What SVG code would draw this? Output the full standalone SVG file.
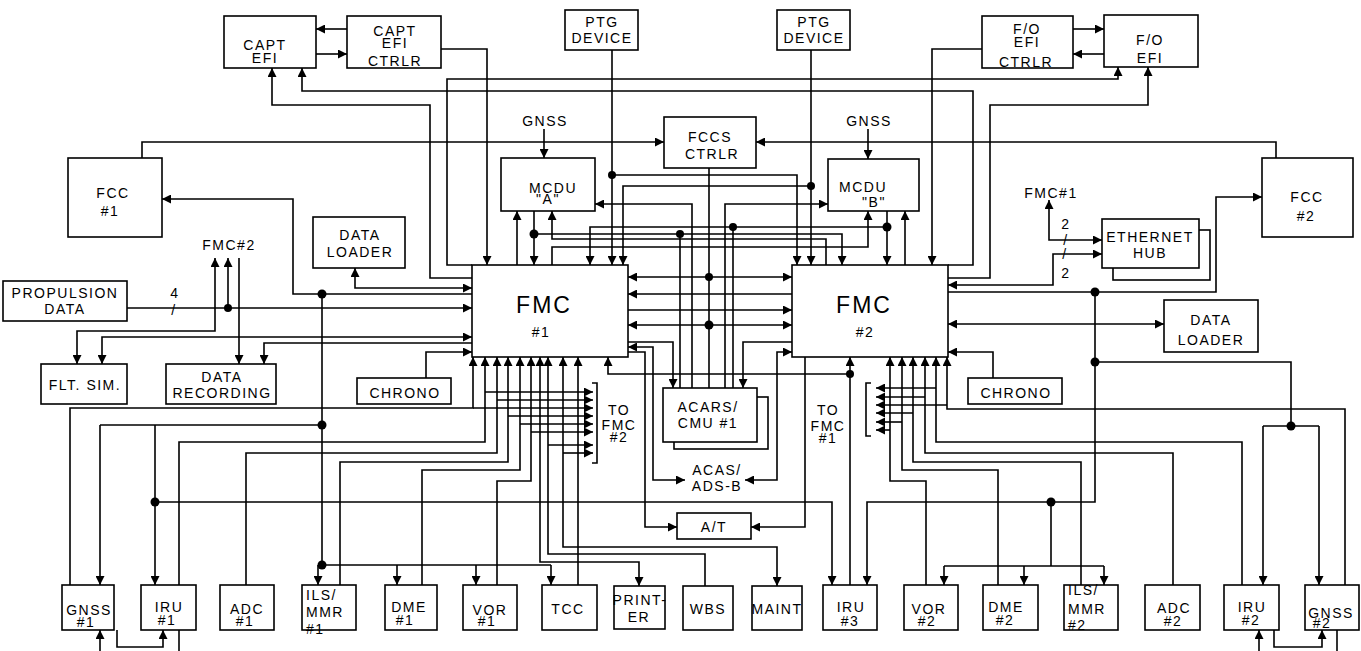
<svg xmlns="http://www.w3.org/2000/svg" width="1361" height="651" viewBox="0 0 1361 651">
<style>
rect{fill:#fff;stroke:#000;stroke-width:1.6}
path{fill:none;stroke:#000;stroke-width:1.6}
.e{marker-end:url(#ah)}
.s{marker-start:url(#ah)}
text{font-family:"Liberation Sans",Arial,sans-serif;font-size:14px;letter-spacing:1.5px;text-anchor:middle;fill:#000}
.big{font-size:23px;letter-spacing:2px}
.l{text-anchor:start}
circle{fill:#000}
</style>
<defs>
<marker id="ah" viewBox="0 0 10 10" refX="10" refY="5" markerWidth="10" markerHeight="9" markerUnits="userSpaceOnUse" orient="auto-start-reverse"><path d="M0,0L10,5L0,10z" style="fill:#000;stroke:none"/></marker>
</defs>
<rect width="1361" height="651" style="fill:#fff;stroke:none"/>
<g id="connectors">
<path class="e" d="M347,29H316"/>
<path class="e" d="M316,54H347"/>
<path class="e" d="M1073,29H1104"/>
<path class="e" d="M1104,54H1073"/>
<path class="e" d="M441,49H487V265"/>
<path class="e" d="M982,49H932V265"/>
<path class="e" d="M472,265H447V79H1118V67"/>
<path class="e" d="M948,265H973V91H302V68"/>
<path class="e" d="M472,278H430V105H272V68"/>
<path class="e" d="M948,278H990V105H1148V67"/>
<path class="e" d="M612,50V265"/>
<path class="e" d="M612,175H797V265"/>
<path class="e" d="M811,50V265"/>
<path class="e" d="M811,186H623V265"/>
<path class="e" d="M142,158V142H664"/>
<path class="e" d="M1276,158V142H756"/>
<path d="M709,168V388"/>
<path class="e s" d="M628,277H792"/>
<path class="e" d="M544,129V158"/>
<path class="e" d="M868,129V159"/>
<path class="e" d="M534,211V265"/>
<path class="e" d="M534,234H842V265"/>
<path d="M680,234V388"/>
<path class="e" d="M517,265V211"/>
<path class="e" d="M826,265V239H552V211"/>
<path class="e" d="M552,265V247H868V211"/>
<path class="e" d="M905,265V211"/>
<path class="e" d="M887,211V265"/>
<path class="e" d="M887,227H590V265"/>
<path d="M733,227V388"/>
<path class="e" d="M692,388V204H595"/>
<path class="e" d="M725,388V204H828"/>
<path class="e" d="M792,294H628"/>
<path class="e" d="M628,310H792"/>
<path class="e s" d="M628,325H792"/>
<path class="e" d="M628,342H673V388"/>
<path class="e" d="M792,342H743V388"/>
<path class="e s" d="M685,480H653V347H628"/>
<path class="e" d="M628,352H645V527H677"/>
<path class="e s" d="M745,480H777V352H792"/>
<path class="e" d="M805,357V527H751"/>
<path class="e s" d="M355,268V288H472"/>
<path class="e" d="M472,294H293V199H162"/>
<path class="e" d="M127,308H472"/>
<path class="e" d="M228,308V258"/>
<path class="e s" d="M215,258V331H77V364"/>
<path class="e s" d="M102,364V337H472"/>
<path class="e" d="M239,258V364"/>
<path class="e" d="M472,343H264V364"/>
<path class="e" d="M426,378V352H472"/>
<path class="e" d="M948,292H1216V197H1262"/>
<path class="e s" d="M1102,254H1053V285H948"/>
<path class="e s" d="M1049,200V240H1102"/>
<path class="e s" d="M948,324H1164"/>
<path class="e" d="M993,378V352H948"/>
<path class="e" d="M1095,292V502H867V585"/>
<path d="M1095,362H1291V426"/>
<path d="M1263,426H1319"/>
<path class="e" d="M1263,426V585"/>
<path class="e" d="M1319,426V585"/>
<path d="M1051,502V566"/>
<path d="M944,566H1104"/>
<path class="e" d="M944,566V585"/>
<path class="e" d="M1024,566V585"/>
<path class="e" d="M1104,566V585"/>
<path d="M322,294V565"/>
<path d="M100,425H322"/>
<path class="e" d="M100,425V585"/>
<path class="e" d="M155,425V585"/>
<path class="e" d="M155,502H832V585"/>
<path d="M318,565H551"/>
<path class="e" d="M318,565V585"/>
<path class="e" d="M397,565V585"/>
<path class="e" d="M476,565V585"/>
<path class="e" d="M551,565V585"/>
<path class="e" d="M70,585V408H473V357"/>
<path class="e" d="M179,585V442H485V357"/>
<path class="e" d="M246,585V453H497V357"/>
<path class="e" d="M340,585V462H508V357"/>
<path class="e" d="M422,585V470H520V357"/>
<path class="e" d="M497,585V481H531V357"/>
<path class="e s" d="M540,357V562H639V586"/>
<path class="e" d="M705,586V554H548V357"/>
<path class="e s" d="M563,357V547H777V586"/>
<path class="e" d="M578,585V357"/>
<path class="e" d="M850,585V357"/>
<path class="e" d="M850,374H608V357"/>
<path class="e" d="M1345,585V409H947V357"/>
<path class="e" d="M1242,585V442H936V357"/>
<path class="e" d="M1173,585V453H925V357"/>
<path class="e" d="M1081,585V462H913V357"/>
<path class="e" d="M998,585V470H902V357"/>
<path class="e" d="M926,585V481H890V357"/>
<path class="e" d="M100,651V630"/>
<path class="e" d="M117,630V647H163V630"/>
<path d="M179,630V651"/>
<path class="e" d="M1259,651V630"/>
<path class="e" d="M1274,630V647H1322V630"/>
<path d="M1337,630V651"/>
<path class="e" d="M485,392H593"/>
<path class="e" d="M497,400H593"/>
<path class="e" d="M473,408H593"/>
<path class="e" d="M508,416H593"/>
<path class="e" d="M520,424H593"/>
<path class="e" d="M531,432H593"/>
<path class="e" d="M548,445H593"/>
<path class="e" d="M563,453H593"/>
<path d="M592,383H597V463H592"/>
<path class="e" d="M936,388H876"/>
<path class="e" d="M925,397H876"/>
<path class="e" d="M947,405H876"/>
<path class="e" d="M913,413H876"/>
<path class="e" d="M902,422H876"/>
<path class="e" d="M890,430H876"/>
<path d="M871,383H866V436H871"/>
<circle cx="612" cy="175" r="4"/>
<circle cx="811" cy="186" r="4"/>
<circle cx="709" cy="277" r="4"/>
<circle cx="709" cy="325" r="4.5"/>
<circle cx="534" cy="234" r="4.5"/>
<circle cx="680" cy="234" r="4"/>
<circle cx="887" cy="227" r="4.5"/>
<circle cx="733" cy="227" r="4"/>
<circle cx="228" cy="308" r="4"/>
<circle cx="322" cy="294" r="4.5"/>
<circle cx="322" cy="425" r="4.5"/>
<circle cx="322" cy="565" r="4.5"/>
<circle cx="155" cy="502" r="4.5"/>
<circle cx="1095" cy="292" r="4.5"/>
<circle cx="1095" cy="362" r="4.5"/>
<circle cx="1291" cy="426" r="4.5"/>
<circle cx="1051" cy="502" r="4.5"/>
<circle cx="850" cy="374" r="4"/>
</g>
<g id="capt-efi"><rect x="224" y="16" width="92" height="52"/><text x="265" y="50">CAPT</text><text x="265" y="63">EFI</text></g>
<g id="capt-efi-ctrlr"><rect x="347" y="16" width="94" height="52"/><text x="395" y="36">CAPT</text><text x="395" y="48">EFI</text><text x="395" y="66">CTRLR</text></g>
<g id="ptg1"><rect x="565" y="10" width="73" height="40"/><text x="602" y="27">PTG</text><text x="602" y="43">DEVICE</text></g>
<g id="ptg2"><rect x="777" y="10" width="73" height="40"/><text x="814" y="27">PTG</text><text x="814" y="43">DEVICE</text></g>
<g id="fo-efi-ctrlr"><rect x="982" y="16" width="91" height="52"/><text x="1027" y="34">F/O</text><text x="1027" y="47">EFI</text><text x="1026" y="67">CTRLR</text></g>
<g id="fo-efi"><rect x="1104" y="15" width="94" height="52"/><text x="1150" y="45">F/O</text><text x="1150" y="63">EFI</text></g>
<g id="fcc1"><rect x="68" y="158" width="94" height="79"/><text x="113" y="198">FCC</text><text x="110" y="216">#1</text></g>
<g id="fcc2"><rect x="1262" y="158" width="91" height="79"/><text x="1307" y="202">FCC</text><text x="1306" y="221">#2</text></g>
<g id="gnss-a"><text x="545" y="126">GNSS</text></g>
<g id="gnss-b"><text x="869" y="126">GNSS</text></g>
<g id="mcdu-a"><rect x="501" y="158" width="94" height="53"/><text x="553" y="193">MCDU</text><text x="548" y="204">"A"</text></g>
<g id="mcdu-b"><rect x="828" y="159" width="91" height="52"/><text x="863" y="192">MCDU</text><text x="874" y="207">"B"</text></g>
<g id="fccs"><rect x="664" y="117" width="92" height="51"/><text x="710" y="142">FCCS</text><text x="712" y="159">CTRLR</text></g>
<g id="data-loader-1"><rect x="313" y="217" width="92" height="51"/><text x="360" y="240">DATA</text><text x="360" y="257">LOADER</text></g>
<g id="propulsion"><rect x="3" y="281" width="124" height="40"/><text x="65" y="298">PROPULSION</text><text x="65" y="314">DATA</text></g>
<g id="bus-label"><text x="175" y="298">4</text><text x="174" y="315">/</text></g>
<g id="fmc2-ref"><text x="229" y="250">FMC#2</text></g>
<g id="flt-sim"><rect x="41" y="364" width="86" height="40"/><text x="85" y="390">FLT. SIM.</text></g>
<g id="data-rec"><rect x="166" y="364" width="110" height="40"/><text x="222" y="382">DATA</text><text x="222" y="398">RECORDING</text></g>
<g id="fmc1"><rect x="472" y="265" width="156" height="92"/><text class="big" x="544" y="313">FMC</text><text x="541" y="337">#1</text></g>
<g id="fmc2"><rect x="792" y="265" width="156" height="92"/><text class="big" x="864" y="313">FMC</text><text x="865" y="337">#2</text></g>
<g id="chrono1"><rect x="357" y="378" width="94" height="26"/><text x="405" y="398">CHRONO</text></g>
<g id="chrono2"><rect x="968" y="378" width="94" height="26"/><text x="1016" y="398">CHRONO</text></g>
<g id="acars"><rect x="674" y="397" width="94" height="52"/><rect x="663" y="388" width="94" height="54"/><text x="708" y="412">ACARS/</text><text x="708" y="428">CMU #1</text></g>
<g id="to-fmc2"><text x="619" y="415">TO</text><text x="619" y="430">FMC</text><text x="619" y="442">#2</text></g>
<g id="to-fmc1"><text x="828" y="415">TO</text><text x="828" y="431">FMC</text><text x="828" y="443">#1</text></g>
<g id="acas"><text x="717" y="475">ACAS/</text><text x="717" y="491">ADS-B</text></g>
<g id="at"><rect x="677" y="513" width="74" height="26"/><text x="714" y="532">A/T</text></g>
<g id="fmc1-ref"><text x="1051" y="198">FMC#1</text></g>
<g id="hub"><rect x="1113" y="230" width="97" height="50"/><rect x="1102" y="219" width="97" height="49"/><text x="1150" y="242">ETHERNET</text><text x="1150" y="258">HUB</text></g>
<g id="hub-labels"><text x="1066" y="229">2</text><text x="1066" y="245">/</text><text x="1065" y="259">/</text><text x="1066" y="278">2</text></g>
<g id="data-loader-2"><rect x="1164" y="300" width="94" height="52"/><text x="1211" y="325">DATA</text><text x="1211" y="345">LOADER</text></g>
<g id="gnss1"><rect x="62" y="585" width="52" height="45"/><text x="89" y="615">GNSS</text><text x="86" y="627">#1</text></g>
<g id="iru1"><rect x="141" y="585" width="55" height="45"/><text x="169" y="612">IRU</text><text x="167" y="625">#1</text></g>
<g id="adc1"><rect x="220" y="585" width="54" height="45"/><text x="247" y="614">ADC</text><text x="245" y="626">#1</text></g>
<g id="ils1"><rect x="302" y="585" width="54" height="45"/><text class="l" x="306" y="600">ILS/</text><text class="l" x="306" y="617">MMR</text><text class="l" x="306" y="634">#1</text></g>
<g id="dme1"><rect x="385" y="585" width="52" height="45"/><text x="409" y="612">DME</text><text x="405" y="625">#1</text></g>
<g id="vor1"><rect x="463" y="585" width="54" height="45"/><text x="490" y="615">VOR</text><text x="487" y="626">#1</text></g>
<g id="tcc"><rect x="542" y="585" width="55" height="45"/><text x="568" y="614">TCC</text></g>
<g id="printer"><rect x="614" y="586" width="51" height="43"/><text x="640" y="605">PRINT-</text><text x="639" y="622">ER</text></g>
<g id="wbs"><rect x="683" y="586" width="50" height="44"/><text x="708" y="614">WBS</text></g>
<g id="maint"><rect x="752" y="586" width="50" height="44"/><text x="777" y="614">MAINT</text></g>
<g id="iru3"><rect x="823" y="585" width="54" height="45"/><text x="851" y="612">IRU</text><text x="850" y="626">#3</text></g>
<g id="vor2"><rect x="904" y="585" width="54" height="45"/><text x="929" y="614">VOR</text><text x="927" y="626">#2</text></g>
<g id="dme2"><rect x="983" y="585" width="55" height="45"/><text x="1006" y="612">DME</text><text x="1005" y="625">#2</text></g>
<g id="ils2"><rect x="1064" y="585" width="54" height="45"/><text class="l" x="1068" y="595">ILS/</text><text class="l" x="1068" y="614">MMR</text><text class="l" x="1068" y="630">#2</text></g>
<g id="adc2"><rect x="1145" y="585" width="55" height="45"/><text x="1174" y="613">ADC</text><text x="1173" y="626">#2</text></g>
<g id="iru2"><rect x="1224" y="585" width="55" height="45"/><text x="1252" y="612">IRU</text><text x="1251" y="625">#2</text></g>
<g id="gnss2"><rect x="1305" y="585" width="54" height="45"/><text x="1331" y="618">GNSS</text><text x="1322" y="628">#2</text></g>
</svg>
